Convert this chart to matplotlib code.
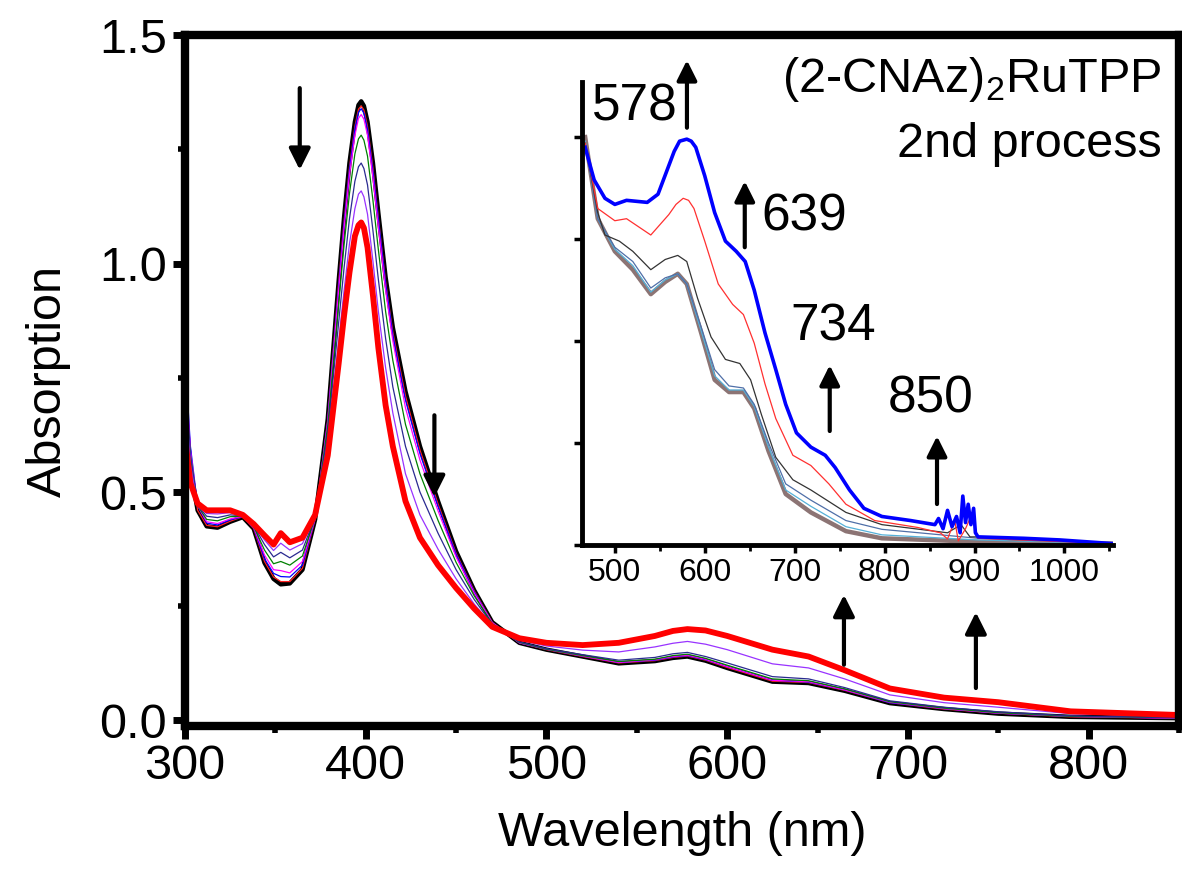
import numpy as np
import matplotlib
matplotlib.use('Agg')
import matplotlib.pyplot as plt
from matplotlib.ticker import MultipleLocator, FormatStrFormatter

plt.rcParams['font.family'] = ['Liberation Sans', 'DejaVu Sans']
plt.rcParams['mathtext.fontset'] = 'custom'
plt.rcParams['mathtext.rm'] = 'Liberation Sans'

# main spectra (2nd process), wavelength grid in nm
wl = [300, 303, 307, 312, 318, 325, 332, 338, 344, 349, 353, 358, 365, 372, 379, 385,
      388, 391, 394, 396, 397.5, 399, 401, 404, 407, 411, 415, 422, 430, 440, 450, 460,
      470, 485, 500, 520, 540, 560, 570, 578, 588, 600, 625, 645, 665, 690, 720, 750,
      790, 850]

abs_black = [.70, .55, .46, .425, .422, .435, .445, .42, .345, .31, .298, .30, .33, .44, .66, .96,
             1.10, 1.22, 1.31, 1.347, 1.355, 1.345, 1.31, 1.22, 1.11, .97, .86, .72, .60, .48, .37, .285,
             .215, .17, .155, .14, .125, .13, .137, .14, .131, .115, .085, .082, .065, .038, .025, .015,
             .008, .005]
abs_red1 = [.72, .56, .46, .427, .424, .436, .446, .42, .348, .314, .304, .304, .333, .44, .659, .958,
            1.092, 1.211, 1.30, 1.338, 1.345, 1.336, 1.30, 1.209, 1.10, .96, .85, .71, .592, .474, .366, .284,
            .215, .17, .155, .14, .126, .131, .138, .141, .132, .116, .086, .083, .066, .039, .025, .016,
            .008, .005]
abs_blue = [.80, .60, .47, .432, .428, .439, .446, .422, .354, .322, .315, .314, .34, .441, .657, .95,
            1.087, 1.205, 1.295, 1.331, 1.339, 1.329, 1.294, 1.202, 1.096, .957, .844, .701, .584, .469, .364, .282,
            .214, .17, .156, .141, .127, .132, .139, .142, .133, .118, .088, .084, .067, .039, .026, .016,
            .009, .005]
abs_magenta = [.78, .59, .47, .435, .431, .441, .447, .423, .362, .33, .328, .323, .348, .442, .654, .94,
               1.077, 1.194, 1.28, 1.318, 1.326, 1.316, 1.281, 1.188, 1.08, .942, .831, .684, .57, .459, .358, .279,
               .214, .17, .156, .141, .127, .133, .14, .143, .134, .118, .088, .085, .067, .04, .026, .016,
               .009, .005]
abs_green = [.74, .58, .47, .44, .437, .446, .447, .425, .373, .343, .348, .34, .36, .444, .645, .91,
             1.04, 1.153, 1.24, 1.273, 1.281, 1.27, 1.235, 1.138, 1.03, .895, .788, .648, .54, .438, .346, .273,
             .212, .171, .156, .142, .129, .134, .142, .145, .136, .121, .091, .087, .069, .041, .027, .017,
             .009, .006]
abs_navy = [.76, .58, .47, .447, .444, .45, .448, .427, .385, .358, .368, .356, .373, .446, .63, .87,
            .99, 1.098, 1.18, 1.212, 1.22, 1.208, 1.172, 1.072, .965, .836, .73, .60, .50, .41, .33, .265,
            .21, .172, .157, .144, .132, .138, .146, .149, .14, .126, .096, .091, .072, .043, .029, .019,
            .01, .006]
abs_violet = [.72, .56, .47, .453, .452, .455, .449, .428, .395, .372, .388, .373, .387, .448, .61, .83,
              .94, 1.043, 1.12, 1.152, 1.159, 1.146, 1.108, 1.005, .895, .772, .673, .54, .45, .375, .31, .255,
              .208, .176, .163, .154, .150, .161, .169, .173, .167, .155, .124, .115, .091, .056, .039, .029,
              .015, .009]
abs_red = [.62, .52, .475, .46, .46, .46, .45, .43, .405, .385, .41, .39, .40, .45, .58, .78,
           .885, .98, 1.06, 1.084, 1.09, 1.078, 1.035, .93, .815, .69, .60, .48, .40, .34, .29, .245,
           .205, .18, .17, .165, .17, .185, .196, .20, .197, .185, .155, .14, .11, .07, .05, .04,
           .02, .012]

# inset spectra
in_wl_blue = [467, 477, 489, 500, 513, 536, 548, 560, 566, 572, 580, 585, 590, 600, 611, 623,
              635, 645, 655, 667, 679, 690, 702, 718, 734, 745, 761, 777, 797, 829, 856, 860,
              865, 870, 875, 880, 884, 887, 890, 893, 896, 899, 901, 904, 955, 995, 1054]
in_blue = [.195, .179, .170, .167, .169, .168, .172, .186, .193, .198, .199, .198, .195, .181, .163, .149,
           .144, .139, .125, .104, .086, .069, .055, .048, .044, .038, .027, .018, .014, .012, .010, .013,
           .008, .017, .009, .014, .006, .024, .011, .020, .010, .018, .006, .004, .0033, .0025, .0007]

in_wl_red = [467, 481, 500, 513, 540, 560, 568, 576, 582, 588, 600, 615, 631, 643, 655, 667,
             679, 698, 718, 738, 757, 789, 837, 862, 870, 878, 882, 890, 897, 904, 1054]
in_red = [.197, .165, .159, .160, .152, .162, .167, .170, .169, .165, .149, .128, .118, .113, .099, .079,
          .062, .044, .039, .030, .020, .012, .0086, .006, .003, .012, .002, .008, .015, .0033, .0007]

in_wl_black = [467, 481, 489, 505, 520, 540, 556, 570, 580, 592, 607, 623, 639, 651, 663, 679,
               698, 718, 757, 797, 870, 885, 895, 904, 1054]
in_black = [.197, .163, .152, .149, .144, .135, .140, .142, .139, .121, .102, .091, .089, .081, .064, .043,
            .032, .027, .016, .010, .006, .010, .004, .004, .0007]

in_wl_slate = [467, 481, 500, 520, 540, 556, 570, 580, 596, 611, 627, 643, 655, 671, 690, 718,
               757, 797, 904, 1054]
in_slate = [.197, .160, .146, .139, .126, .131, .133, .128, .107, .086, .078, .077, .069, .050, .030, .022,
            .012, .0077, .0033, .0007]
in_light = [.198, .160, .145, .137, .124, .130, .133, .128, .105, .083, .076, .076, .068, .048, .027, .019,
            .009, .005, .0025, .0007]
in_grey = [.200, .160, .144, .135, .123, .129, .133, .128, .104, .081, .075, .075, .067, .046, .025, .016,
           .0068, .0033, .0016, .0007]

fig = plt.figure(figsize=(11.82, 8.69), dpi=100)
ax = fig.add_axes([0.1565, 0.1646, 0.841, 0.795])

ax.plot(wl, abs_black, color='black', lw=3.2)
ax.plot(wl, abs_red1, color='#FF2020', lw=0.9)
ax.plot(wl, abs_blue, color='#0000FF', lw=0.9)
ax.plot(wl, abs_magenta, color='#FF00FF', lw=0.9)
ax.plot(wl, abs_green, color='#008000', lw=0.9)
ax.plot(wl, abs_navy, color='#2A2A90', lw=0.9)
ax.plot(wl, abs_violet, color='#9933FF', lw=0.9)
ax.plot(wl, abs_red, color='#FF0000', lw=4.2)

ax.set_xlim(300, 850)
ax.set_ylim(-0.012, 1.5)
ax.xaxis.set_major_locator(MultipleLocator(100))
ax.xaxis.set_minor_locator(MultipleLocator(50))
ax.yaxis.set_major_locator(MultipleLocator(0.5))
ax.yaxis.set_minor_locator(MultipleLocator(0.25))
ax.yaxis.set_major_formatter(FormatStrFormatter('%.1f'))
ax.tick_params(which='major', direction='out', length=9, width=5, labelsize=35, pad=4)
ax.tick_params(which='minor', direction='out', length=5, width=4)
for s in ax.spines.values():
    s.set_linewidth(6)
ax.set_xlabel('Wavelength (nm)', fontsize=35, labelpad=16)
ax.set_ylabel('Absorption', fontsize=35, labelpad=20)

arr = dict(arrowstyle='-|>', lw=3, color='black', mutation_scale=32, shrinkA=0, shrinkB=0)
ax.annotate('', xy=(363.5, 1.205), xytext=(363.5, 1.384), arrowprops=arr)
ax.annotate('', xy=(438, 0.489), xytext=(438, 0.668), arrowprops=arr)
ax.annotate('', xy=(664.6, 0.275), xytext=(664.6, 0.122), arrowprops=arr)
ax.annotate('', xy=(737.6, 0.237), xytext=(737.6, 0.071), arrowprops=arr)

# inset
ins = fig.add_axes([0.4924, 0.3728, 0.4492, 0.5328])
ins.plot(in_wl_slate, in_grey, color='#8C7474', lw=3.2)
ins.plot(in_wl_slate, in_light, color='#55B0D8', lw=0.9)
ins.plot(in_wl_slate, in_slate, color='#4F6FA8', lw=0.9)
ins.plot(in_wl_black, in_black, color='#333333', lw=0.9)
ins.plot(in_wl_red, in_red, color='#FF3030', lw=0.9)
ins.plot(in_wl_blue, in_blue, color='#0000FF', lw=2.6)

ins.set_xlim(463.5, 1054)
ins.set_ylim(0, 0.227)
ins.patch.set_alpha(0)
ins.spines['top'].set_visible(False)
ins.spines['right'].set_visible(False)
ins.spines['left'].set_linewidth(3.5)
ins.spines['bottom'].set_linewidth(3.5)
ins.xaxis.set_major_locator(MultipleLocator(100))
ins.xaxis.set_minor_locator(MultipleLocator(50))
ins.yaxis.set_major_locator(MultipleLocator(0.05))
ins.set_yticklabels([])
ins.tick_params(which='major', direction='out', length=6, width=2.5, labelsize=23, pad=3)
ins.tick_params(which='minor', direction='out', length=4, width=2)

arr2 = dict(arrowstyle='-|>', lw=3, color='black', mutation_scale=30, shrinkA=0, shrinkB=0)
for xa, y0, y1 in [(580.2, 0.2046, 0.2377), (644.5, 0.146, 0.1784),
                   (739, 0.0559, 0.0882), (858.3, 0.0201, 0.0534)]:
    ins.annotate('', xy=(xa, y1), xytext=(xa, y0), arrowprops=arr2, annotation_clip=False)

for txt, xt, yt in [('578', 474.6, 0.2146), ('639', 662.6, 0.1607),
                    ('734', 694.7, 0.1068), ('850', 804, 0.0715)]:
    ins.text(xt, yt, txt, fontsize=37, ha='left', va='center', clip_on=False)

ins.text(1108.3, 0.2283, '(2-CNAz)$_2$RuTPP', fontsize=35, ha='right', va='center', clip_on=False)
ins.text(1108.3, 0.1965, '2nd process', fontsize=35, ha='right', va='center', clip_on=False)

fig.savefig('out.png', dpi=100)
